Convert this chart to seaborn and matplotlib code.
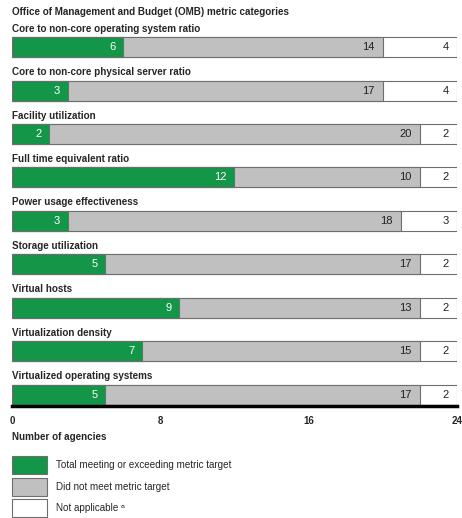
import matplotlib as mpl
mpl.use('agg')
import matplotlib.pyplot as plt
import seaborn as sns
import pandas as pd
from matplotlib.patches import Rectangle

categories = ["Core to non-core operating system ratio",
              "Core to non-core physical server ratio",
              "Facility utilization",
              "Full time equivalent ratio",
              "Power usage effectiveness",
              "Storage utilization",
              "Virtual hosts",
              "Virtualization density",
              "Virtualized operating systems"]
met = [6, 3, 2, 12, 3, 5, 9, 7, 5]
not_met = [14, 17, 20, 10, 18, 17, 13, 15, 17]
not_applicable = [4, 4, 2, 2, 3, 2, 2, 2, 2]
xticks = [0, 8, 16, 24]
legend_labels = ["Total meeting or exceeding metric target",
                 "Did not meet metric target",
                 "Not applicable \u1d43"]

GREEN = "#139647"
GRAY = "#c0c0c0"
EDGE = "#6e6e6e"

sns.set_style("white")
plt.rcParams['font.family'] = ['Liberation Sans', 'DejaVu Sans']

df = pd.DataFrame({"Category": categories, "Met": met, "NotMet": not_met, "NA": not_applicable})
df["c1"] = df.Met
df["c2"] = df.Met + df.NotMet
df["c3"] = df.c2 + df.NA

fig = plt.figure(figsize=(4.62, 5.18), dpi=100)
ax = fig.add_axes([12/462, 1-406/518, 445/462, 398/518])

# stacked bars: draw cumulative totals back to front
for col, c in [("c3", "white"), ("c2", GRAY), ("c1", GREEN)]:
    sns.barplot(data=df, y="Category", x=col, order=categories, orient="h",
                color=c, saturation=1, width=0.46, errorbar=None,
                edgecolor=EDGE, linewidth=0.8, ax=ax)

for i, row in df.iterrows():
    ax.text(row.c1 - 0.4, i, str(row.Met), ha="right", va="center", color="white", fontsize=8)
    ax.text(row.c2 - 0.45, i, str(row.NotMet), ha="right", va="center", color="#222222", fontsize=8)
    ax.text(row.c3 - 0.45, i, str(row.NA), ha="right", va="center", color="#222222", fontsize=8)
    ax.text(0, i - 0.31, row.Category, ha="left", va="bottom", fontsize=7.1, fontweight="bold")

ax.set_xlim(0, 24)
ax.set_ylim(8.26, -0.9)
ax.set_yticks([])
ax.set_ylabel("")
ax.set_xlabel("")
ax.set_xticks(xticks)
ax.set_xticklabels([str(t) for t in xticks], fontweight="bold", fontsize=7)
ax.tick_params(axis="x", length=0, pad=7)
for s in ["top", "left", "right"]:
    ax.spines[s].set_visible(False)
ax.spines["bottom"].set_linewidth(2.5)
ax.spines["bottom"].set_color("black")

fig.text(12/462, 1-12/518, "Office of Management and Budget (OMB) metric categories",
         ha="left", va="center", fontsize=7.1, fontweight="bold")
fig.text(12/462, 1-437/518, "Number of agencies", ha="left", va="center",
         fontsize=7.1, fontweight="bold")

# legend
for k, (lab, c) in enumerate(zip(legend_labels, [GREEN, GRAY, "white"])):
    top = 456 + k * 21.5
    fig.patches.append(Rectangle((12/462, 1-(top+18)/518), 35/462, 18/518,
                                 facecolor=c, edgecolor=EDGE, linewidth=0.8,
                                 transform=fig.transFigure, figure=fig))
    fig.text(56/462, 1-(top+9)/518, lab, ha="left", va="center", fontsize=7.1)

plt.savefig("out.png", dpi=100)
plt.close()
